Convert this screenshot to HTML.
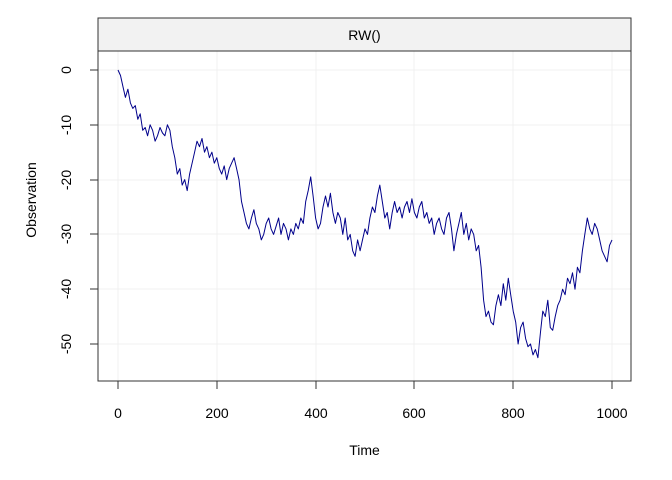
<!DOCTYPE html>
<html><head><meta charset="utf-8"><style>
html,body{margin:0;padding:0;background:#fff;}
svg{display:block;font-family:"Liberation Sans",Arial,sans-serif;}
</style></head><body>
<svg width="672" height="480" viewBox="0 0 672 480">
<rect x="0" y="0" width="672" height="480" fill="#fff"/>
<g stroke="#f0f0f0" stroke-width="1">
<line x1="118" y1="51" x2="118" y2="381"/><line x1="217" y1="51" x2="217" y2="381"/>
<line x1="316" y1="51" x2="316" y2="381"/><line x1="414" y1="51" x2="414" y2="381"/>
<line x1="513" y1="51" x2="513" y2="381"/><line x1="612" y1="51" x2="612" y2="381"/>
<line x1="98" y1="70" x2="631" y2="70"/><line x1="98" y1="125" x2="631" y2="125"/>
<line x1="98" y1="180" x2="631" y2="180"/><line x1="98" y1="234" x2="631" y2="234"/>
<line x1="98" y1="289" x2="631" y2="289"/><line x1="98" y1="344" x2="631" y2="344"/>
</g>
<rect x="98" y="18" width="533" height="33" fill="#f2f2f2" stroke="#333" stroke-width="1"/>
<text x="364.5" y="40" font-size="14" text-anchor="middle" fill="#000">RW()</text>
<polyline fill="none" stroke="#00008b" stroke-width="1" stroke-linejoin="round" points="118.0,70.0 120.5,75.5 122.9,86.4 125.4,97.4 127.9,89.2 130.4,102.9 132.8,108.4 135.3,105.6 137.8,119.3 140.2,113.8 142.7,130.3 145.2,127.5 147.6,135.8 150.1,124.8 152.6,130.3 155.1,141.2 157.5,135.8 160.0,127.5 162.5,133.0 164.9,135.8 167.4,124.8 169.9,130.3 172.3,146.7 174.8,157.7 177.3,174.1 179.8,168.6 182.2,185.1 184.7,179.6 187.2,190.6 189.6,174.1 192.1,163.2 194.6,152.2 197.0,141.2 199.5,146.7 202.0,138.5 204.5,152.2 206.9,146.7 209.4,157.7 211.9,152.2 214.3,163.2 216.8,157.7 219.3,168.6 221.7,174.1 224.2,165.9 226.7,179.6 229.2,168.6 231.6,163.2 234.1,157.7 236.6,168.6 239.0,179.6 241.5,201.5 244.0,212.5 246.4,223.4 248.9,228.9 251.4,218.0 253.9,209.7 256.3,223.4 258.8,228.9 261.3,239.9 263.7,234.4 266.2,223.4 268.7,218.0 271.1,228.9 273.6,234.4 276.1,226.2 278.6,218.0 281.0,234.4 283.5,223.4 286.0,228.9 288.4,239.9 290.9,228.9 293.4,234.4 295.8,223.4 298.3,228.9 300.8,218.0 303.3,223.4 305.7,201.5 308.2,190.6 310.7,176.9 313.1,196.0 315.6,218.0 318.1,228.9 320.5,223.4 323.0,207.0 325.5,196.0 328.0,207.0 330.4,193.3 332.9,212.5 335.4,223.4 337.8,212.5 340.3,218.0 342.8,234.4 345.2,218.0 347.7,239.9 350.2,234.4 352.7,250.8 355.1,256.3 357.6,239.9 360.1,250.8 362.5,239.9 365.0,228.9 367.5,234.4 369.9,218.0 372.4,207.0 374.9,212.5 377.4,196.0 379.8,185.1 382.3,201.5 384.8,218.0 387.2,212.5 389.7,228.9 392.2,212.5 394.6,201.5 397.1,212.5 399.6,207.0 402.1,218.0 404.5,207.0 407.0,201.5 409.5,212.5 411.9,198.8 414.4,212.5 416.9,218.0 419.3,207.0 421.8,201.5 424.3,218.0 426.8,212.5 429.2,223.4 431.7,218.0 434.2,234.4 436.6,223.4 439.1,218.0 441.6,228.9 444.0,234.4 446.5,218.0 449.0,212.5 451.5,228.9 453.9,250.8 456.4,234.4 458.9,223.4 461.3,212.5 463.8,234.4 466.3,223.4 468.7,239.9 471.2,228.9 473.7,234.4 476.2,250.8 478.6,245.4 481.1,267.3 483.6,300.2 486.0,316.6 488.5,311.1 491.0,322.1 493.4,324.8 495.9,305.6 498.4,294.7 500.9,305.6 503.3,283.7 505.8,300.2 508.3,278.2 510.7,294.7 513.2,311.1 515.7,322.1 518.1,344.0 520.6,327.6 523.1,322.1 525.6,338.5 528.0,346.7 530.5,344.0 533.0,354.9 535.4,349.5 537.9,357.7 540.4,333.0 542.8,311.1 545.3,316.6 547.8,300.2 550.3,327.6 552.7,330.3 555.2,316.6 557.7,305.6 560.1,300.2 562.6,289.2 565.1,294.7 567.5,278.2 570.0,283.7 572.5,272.8 575.0,289.2 577.4,267.3 579.9,272.8 582.4,250.8 584.8,234.4 587.3,218.0 589.8,228.9 592.2,234.4 594.7,223.4 597.2,228.9 599.7,239.9 602.1,250.8 604.6,256.3 607.1,261.8 609.5,245.4 612.0,239.9"/>
<rect x="98" y="51" width="533" height="330" fill="none" stroke="#333" stroke-width="1"/>
<g stroke="#333" stroke-width="1">
<line x1="90" y1="70" x2="98" y2="70"/><line x1="90" y1="125" x2="98" y2="125"/>
<line x1="90" y1="180" x2="98" y2="180"/><line x1="90" y1="234" x2="98" y2="234"/>
<line x1="90" y1="289" x2="98" y2="289"/><line x1="90" y1="344" x2="98" y2="344"/>
<line x1="118" y1="381" x2="118" y2="389"/><line x1="217" y1="381" x2="217" y2="389"/>
<line x1="316" y1="381" x2="316" y2="389"/><line x1="414" y1="381" x2="414" y2="389"/>
<line x1="513" y1="381" x2="513" y2="389"/><line x1="612" y1="381" x2="612" y2="389"/>
</g>
<g font-size="14" fill="#000" text-anchor="middle">
<text x="118" y="418">0</text><text x="217" y="418">200</text><text x="316" y="418">400</text>
<text x="414" y="418">600</text><text x="513" y="418">800</text><text x="612" y="418">1000</text>
<text transform="translate(71,70) rotate(-90)">0</text>
<text transform="translate(71,125) rotate(-90)">-10</text>
<text transform="translate(71,180) rotate(-90)">-20</text>
<text transform="translate(71,234) rotate(-90)">-30</text>
<text transform="translate(71,289) rotate(-90)">-40</text>
<text transform="translate(71,344) rotate(-90)">-50</text>
<text x="364.5" y="455">Time</text>
<text transform="translate(36,200) rotate(-90)">Observation</text>
</g>
</svg>
</body></html>
